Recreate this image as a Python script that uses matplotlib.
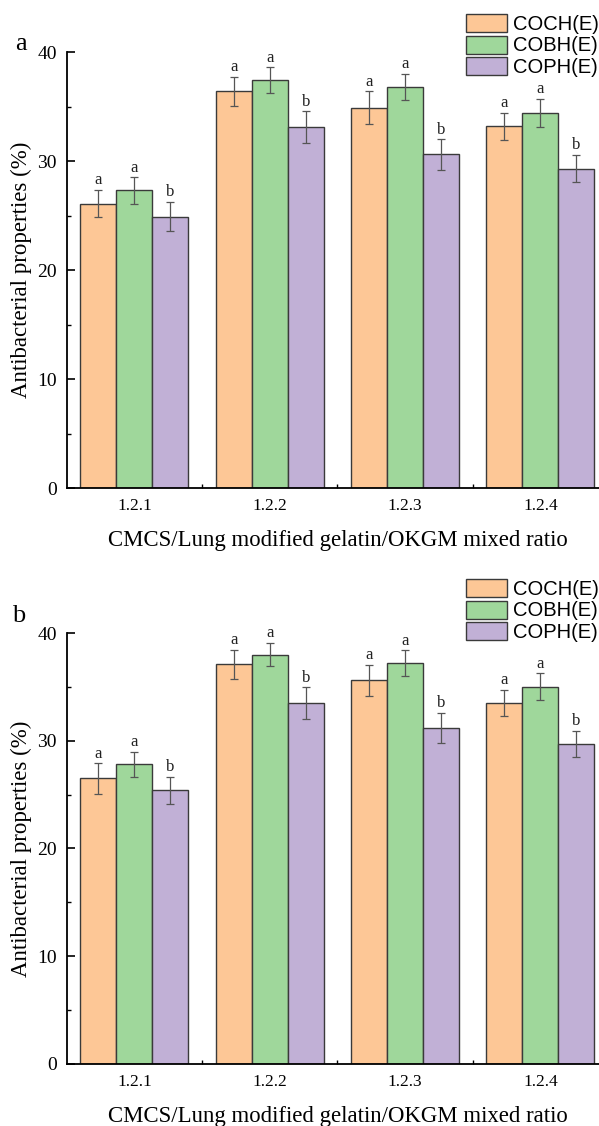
import matplotlib
matplotlib.use('Agg')
import matplotlib.pyplot as plt
import numpy as np
from matplotlib.patches import Patch
from matplotlib.ticker import FixedLocator

# Datos

grupos = ['1.2.1', '1.2.2', '1.2.3', '1.2.4']
series = ['COCH(E)', 'COBH(E)', 'COPH(E)']

a_coch = [26.1, 36.4, 34.9, 33.2]
a_cobh = [27.3, 37.4, 36.8, 34.4]
a_coph = [24.9, 33.1, 30.6, 29.3]
a_err_coch = [1.25, 1.35, 1.5, 1.25]
a_err_cobh = [1.2, 1.2, 1.2, 1.3]
a_err_coph = [1.35, 1.45, 1.4, 1.25]

b_coch = [26.5, 37.1, 35.6, 33.5]
b_cobh = [27.8, 38.0, 37.2, 35.0]
b_coph = [25.4, 33.5, 31.2, 29.7]
b_err_coch = [1.4, 1.35, 1.45, 1.2]
b_err_cobh = [1.15, 1.1, 1.2, 1.25]
b_err_coph = [1.25, 1.45, 1.4, 1.2]

letras = ['a', 'a', 'b']

colores = ['#FDC796', '#9FD79B', '#C1B0D6']
borde = '#3a3a3a'

plt.rcParams['font.family'] = ['Liberation Serif', 'DejaVu Serif']

fig = plt.figure(figsize=(5.99, 11.26), dpi=100)

def panel(ax, valores, errores):
    x = np.arange(len(grupos))
    ancho = 0.266
    for i in range(3):
        pos = x + (i - 1) * ancho
        ax.bar(pos, valores[i], ancho, color=colores[i], edgecolor=borde,
               linewidth=1.0, zorder=2)
        ax.errorbar(pos, valores[i], yerr=errores[i], fmt='none',
                    ecolor='#555555', elinewidth=0.9, capsize=3.2,
                    capthick=0.9, zorder=3)
        for xp, v, e in zip(pos, valores[i], errores[i]):
            ax.annotate(letras[i], (xp, v + e), xytext=(0, 1.2),
                        textcoords='offset points', ha='center', va='bottom',
                        fontsize=12, color='#222222')
    ax.set_xlim(-0.5, 3.5)
    ax.set_ylim(0, 40)
    ax.set_xticks(x)
    ax.set_xticklabels(grupos, fontsize=12.5)
    ax.xaxis.set_minor_locator(FixedLocator([0.5, 1.5, 2.5]))
    ax.set_yticks([0, 10, 20, 30, 40])
    ax.yaxis.set_minor_locator(FixedLocator([5, 15, 25, 35]))
    ax.tick_params(axis='y', labelsize=14)
    ax.tick_params(which='major', direction='in', length=6, width=1.2, pad=7)
    ax.tick_params(which='minor', direction='in', length=3, width=1.0)
    ax.spines['top'].set_visible(False)
    ax.spines['right'].set_visible(False)
    ax.spines['left'].set_linewidth(1.3)
    ax.spines['bottom'].set_linewidth(1.3)
    ax.set_ylabel('Antibacterial properties (%)', fontsize=16.5)
    ax.yaxis.set_label_coords(-0.064, 0.5)
    ax.set_xlabel('CMCS/Lung modified gelatin/OKGM mixed ratio', fontsize=16.4)
    ax.xaxis.set_label_coords(0.5, -0.097)

ax1 = fig.add_axes([0.1114, 0.5666, 0.9037, 0.3872])
panel(ax1, [a_coch, a_cobh, a_coph], [a_err_coch, a_err_cobh, a_err_coph])

ax2 = fig.add_axes([0.1114, 0.0551, 0.9037, 0.3827])
panel(ax2, [b_coch, b_cobh, b_coph], [b_err_coch, b_err_cobh, b_err_coph])

manejadores = [Patch(facecolor=c, edgecolor=borde, linewidth=1.0) for c in colores]
for y0 in [1 - 14 / 1126, 1 - 579 / 1126]:
    fig.legend(manejadores, series, loc='upper left',
               bbox_to_anchor=(466 / 599, y0), frameon=False,
               prop={'family': ['Liberation Sans', 'DejaVu Sans'], 'size': 14.5},
               handlelength=2.05, handleheight=1.0, labelspacing=0.08,
               handletextpad=0.3, borderpad=0, borderaxespad=0)

fig.text(21 / 599, 1 - 44 / 1126, 'a', fontsize=19, ha='center', va='center')
fig.text(19 / 599, 1 - 616 / 1126, 'b', fontsize=19, ha='center', va='center')

fig.savefig('out.png', dpi=100)
